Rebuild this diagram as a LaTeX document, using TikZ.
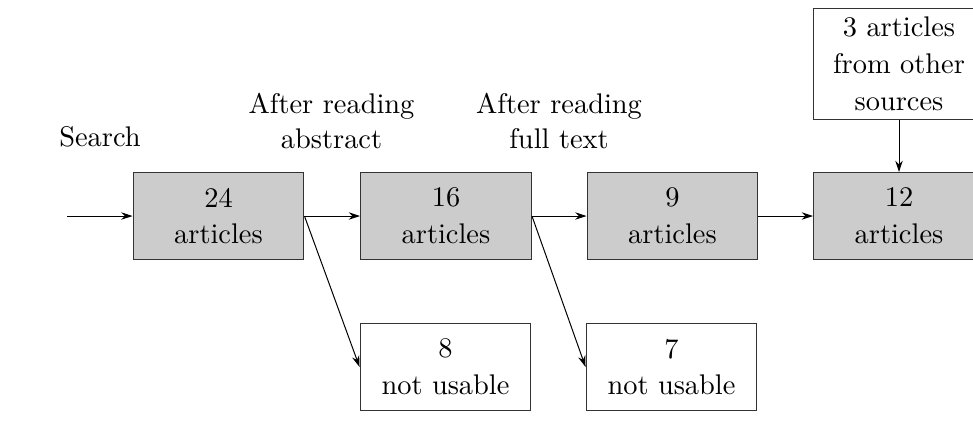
\documentclass[tikz,border=0pt]{standalone}
\usetikzlibrary{arrows.meta}
\begin{document}
\begin{tikzpicture}[x=0.01237cm,y=-0.01237cm,
  box/.style={draw=black!80,line width=0.35pt,minimum width=2.115cm,minimum height=1.076cm,align=center,inner sep=0pt,
    execute at begin node={\setlength{\baselineskip}{13pt}}},
  grey/.style={box,fill=black!20},
  lbl/.style={align=center,inner sep=0pt},
  arr/.style={-{Stealth[length=4pt,width=2.6pt]},line width=0.35pt}]
\useasboundingbox (0,0) rectangle (973,442);
\node[grey] (b24) at (218.5,216) {24\\articles};
\node[grey] (b16) at (446,216) {16\\articles};
\node[grey] (b9) at (672.5,216) {9\\articles};
\node[grey] (b12) at (899,216) {12\\articles};
\node[box] (n8) at (445.5,367) {8\\not usable};
\node[box] (n7) at (671.5,367) {7\\not usable};
\node[box,minimum height=1.385cm] (src) at (899,64) {3 articles\\from other\\sources};
\coordinate (start) at (67,216);
\node[lbl] (ls) at (100,137) {Search};
\node[lbl] (la) at (331.5,121) {After reading\\abstract};
\node[lbl] (lf) at (559,121) {After reading\\full text};
\draw[arr] (start) -- (b24);
\draw[arr] (b24.east) -- (b16.west);
\draw[arr] (b16.east) -- (b9.west);
\draw[arr] (b9.east) -- (b12.west);
\draw[arr] (b24.east) -- (n8.west);
\draw[arr] (b16.east) -- (n7.west);
\draw[arr] (src.south) -- (b12.north);
\end{tikzpicture}
\end{document}
